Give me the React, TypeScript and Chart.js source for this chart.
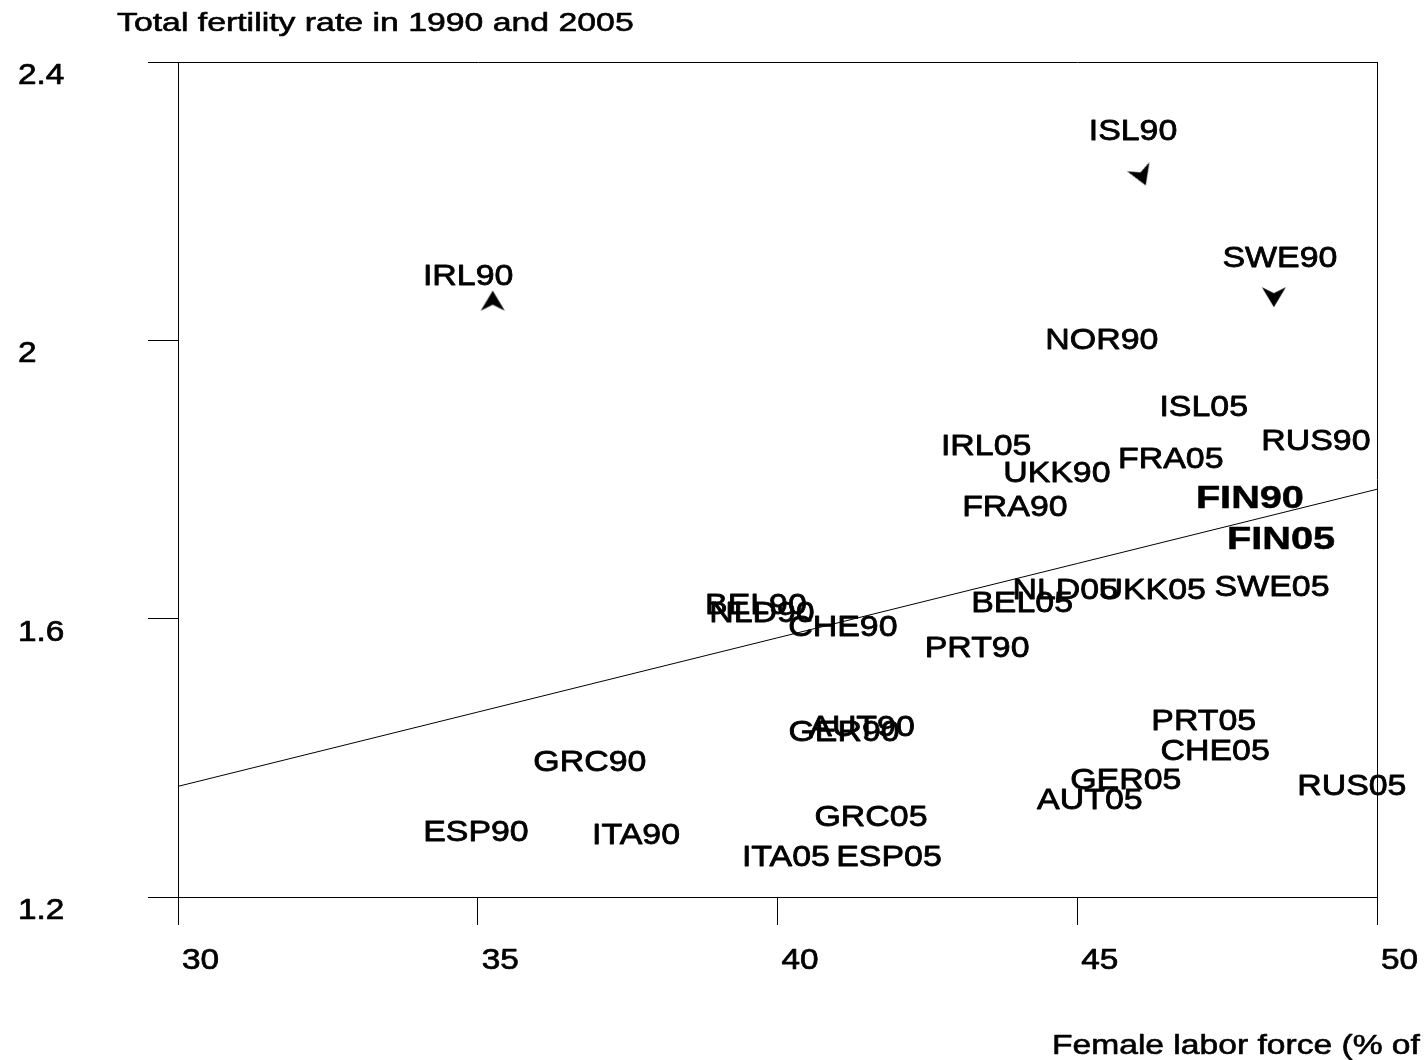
import React, { useEffect, useRef } from "react";
import { Chart, registerables } from "chart.js";
Chart.register(...registerables);

// Country-year labels (used as the scatter markers)
const codes = [
  "ISL90", "IRL90", "SWE90", "NOR90", "ISL05", "RUS90", "IRL05", "FRA05", "UKK90",
  "FIN90", "FRA90", "FIN05", "NLD05", "UKK05", "SWE05", "BEL05", "BEL90", "NLD90",
  "CHE90", "PRT90", "AUT90", "GER90", "PRT05", "CHE05", "GRC90", "GER05", "RUS05",
  "AUT05", "GRC05", "ESP90", "ITA90", "ITA05", "ESP05",
];
// Female labor force (% of total labor force)
const laborForce = [
  45.93, 34.84, 48.38, 45.41, 47.11, 48.98, 43.48, 46.56, 44.66,
  47.88, 43.96, 48.4, 44.8, 46.25, 48.25, 44.08, 39.64, 39.74,
  41.09, 43.33, 41.41, 41.11, 47.11, 47.3, 36.87, 45.81, 49.58,
  45.21, 41.56, 34.97, 37.64, 40.14, 41.86,
];
// Total fertility rate
const fertility = [
  2.304, 2.095, 2.121, 2.003, 1.907, 1.858, 1.85, 1.832, 1.812,
  1.775, 1.763, 1.717, 1.644, 1.644, 1.648, 1.625, 1.622, 1.611,
  1.591, 1.561, 1.447, 1.44, 1.456, 1.413, 1.397, 1.371, 1.362,
  1.342, 1.318, 1.296, 1.292, 1.26, 1.26,
];
const boldCodes = ["FIN90", "FIN05"];

// Arrowhead markers
const arrowX = [35.25, 46.08, 48.28];
const arrowY = [2.057, 2.236, 2.062];
const arrowAngle = [0, 158, 180];

// Fitted line
const fitX = [30, 50];
const fitY = [1.359, 1.786];

// Axes
const xTicks = [30, 35, 40, 45, 50];
const xTickLabels = ["30", "35", "40", "45", "50"];
const yTicks = [1.2, 1.6, 2, 2.4];
const yTickLabels = ["1.2", "1.6", "2", "2.4"];
const yTitle = "Total fertility rate in 1990 and 2005";
const xTitle = "Female labor force (% of";

const FONT = '"Liberation Sans", Arial, sans-serif';

function drawStretched(
  ctx: CanvasRenderingContext2D,
  text: string,
  x: number,
  y: number,
  size: number,
  weight: string,
  sx: number,
  align: "left" | "center",
  capMiddle: boolean,
  stroke: number
) {
  ctx.save();
  ctx.font = `${weight} ${size}px ${FONT}`;
  ctx.textBaseline = "alphabetic";
  ctx.textAlign = "left";
  ctx.fillStyle = "#000";
  ctx.strokeStyle = "#000";
  const w = ctx.measureText(text).width * sx;
  const left = align === "center" ? x - w / 2 : x;
  const base = capMiddle ? y + size * 0.358 : y;
  ctx.translate(left, base);
  ctx.scale(sx, 1);
  ctx.fillText(text, 0, 0);
  if (stroke > 0) {
    ctx.lineWidth = stroke;
    ctx.lineJoin = "round";
    ctx.strokeText(text, 0, 0);
  }
  ctx.restore();
}

function makeArrow(): HTMLCanvasElement {
  const c = document.createElement("canvas");
  c.width = 26;
  c.height = 22;
  const g = c.getContext("2d")!;
  g.fillStyle = "#000";
  g.beginPath();
  g.moveTo(13, 1);
  g.lineTo(25, 21);
  g.lineTo(13, 15);
  g.lineTo(1, 21);
  g.closePath();
  g.fill();
  return c;
}

const textPlugin = {
  id: "textPlugin",
  afterDatasetsDraw(chart: any) {
    const ctx = chart.ctx as CanvasRenderingContext2D;
    const meta = chart.getDatasetMeta(0);
    meta.data.forEach((pt: any, i: number) => {
      const code = codes[i];
      const bold = boldCodes.includes(code);
      drawStretched(
        ctx, code, pt.x, pt.y,
        bold ? 32 : 30, bold ? "bold" : "normal", bold ? 1.24 : 1.13,
        "center", true, bold ? 0.5 : 0.8
      );
    });
  },
  afterDraw(chart: any) {
    const ctx = chart.ctx as CanvasRenderingContext2D;
    const xs = chart.scales.x;
    const ys = chart.scales.y;
    xTicks.forEach((v, i) => {
      const px = xs.getPixelForValue(v);
      drawStretched(ctx, xTickLabels[i], px + 4, chart.chartArea.bottom + 72, 29, "normal", 1.15, "left", false, 0.7);
    });
    yTicks.forEach((v, i) => {
      const py = ys.getPixelForValue(v);
      drawStretched(ctx, yTickLabels[i], 18, py + 22, 29, "normal", 1.15, "left", false, 0.7);
    });
    drawStretched(ctx, yTitle, 117, 31, 26, "normal", 1.3, "left", false, 0.6);
    drawStretched(ctx, xTitle, 1052, 1054, 28, "normal", 1.2, "left", false, 0.6);
  },
};

export default function App() {
  const ref = useRef<HTMLCanvasElement | null>(null);
  useEffect(() => {
    document.body.style.margin = "0";
    const canvas = ref.current!;
    const arrow = makeArrow();
    const chart = new Chart(canvas, {
      type: "scatter",
      data: {
        datasets: [
          {
            label: "labels",
            data: codes.map((_, i) => ({ x: laborForce[i], y: fertility[i] })),
            pointRadius: 0,
            pointHoverRadius: 0,
          },
          {
            label: "fit",
            data: fitX.map((x, i) => ({ x, y: fitY[i] })),
            showLine: true,
            borderColor: "#000",
            borderWidth: 1,
            pointRadius: 0,
          },
          {
            label: "arrows",
            data: arrowX.map((x, i) => ({ x, y: arrowY[i] })),
            pointStyle: arrow as any,
            rotation: arrowAngle as any,
            pointRadius: 11,
          },
        ],
      },
      options: {
        responsive: false,
        animation: false,
        events: [],
        layout: { padding: { left: 0, top: 62, right: 48, bottom: 0 } },
        plugins: { legend: { display: false }, tooltip: { enabled: false } },
        scales: {
          x: {
            type: "linear",
            min: 30,
            max: 50,
            afterBuildTicks: (s: any) => {
              s.ticks = xTicks.map((v) => ({ value: v }));
            },
            afterFit: (s: any) => {
              s.height = 163;
            },
            ticks: { display: false },
            grid: {
              color: (c: any) =>
                c.tick && (c.tick.value === 30 || c.tick.value === 50) ? "#000" : "rgba(0,0,0,0)",
              tickColor: "#000",
              tickLength: 28,
              lineWidth: 1,
            },
            border: { display: true, color: "#000", width: 1 },
          },
          y: {
            type: "linear",
            min: 1.2,
            max: 2.4,
            afterBuildTicks: (s: any) => {
              s.ticks = yTicks.map((v) => ({ value: v }));
            },
            afterFit: (s: any) => {
              s.width = 178;
            },
            ticks: { display: false },
            grid: {
              color: (c: any) =>
                c.tick && (c.tick.value === 1.2 || c.tick.value === 2.4) ? "#000" : "rgba(0,0,0,0)",
              tickColor: "#000",
              tickLength: 30,
              lineWidth: 1,
            },
            border: { display: true, color: "#000", width: 1 },
          },
        },
      },
      plugins: [textPlugin],
    });
    return () => chart.destroy();
  }, []);
  return <canvas ref={ref} width={1425} height={1060} style={{ display: "block" }} />;
}
